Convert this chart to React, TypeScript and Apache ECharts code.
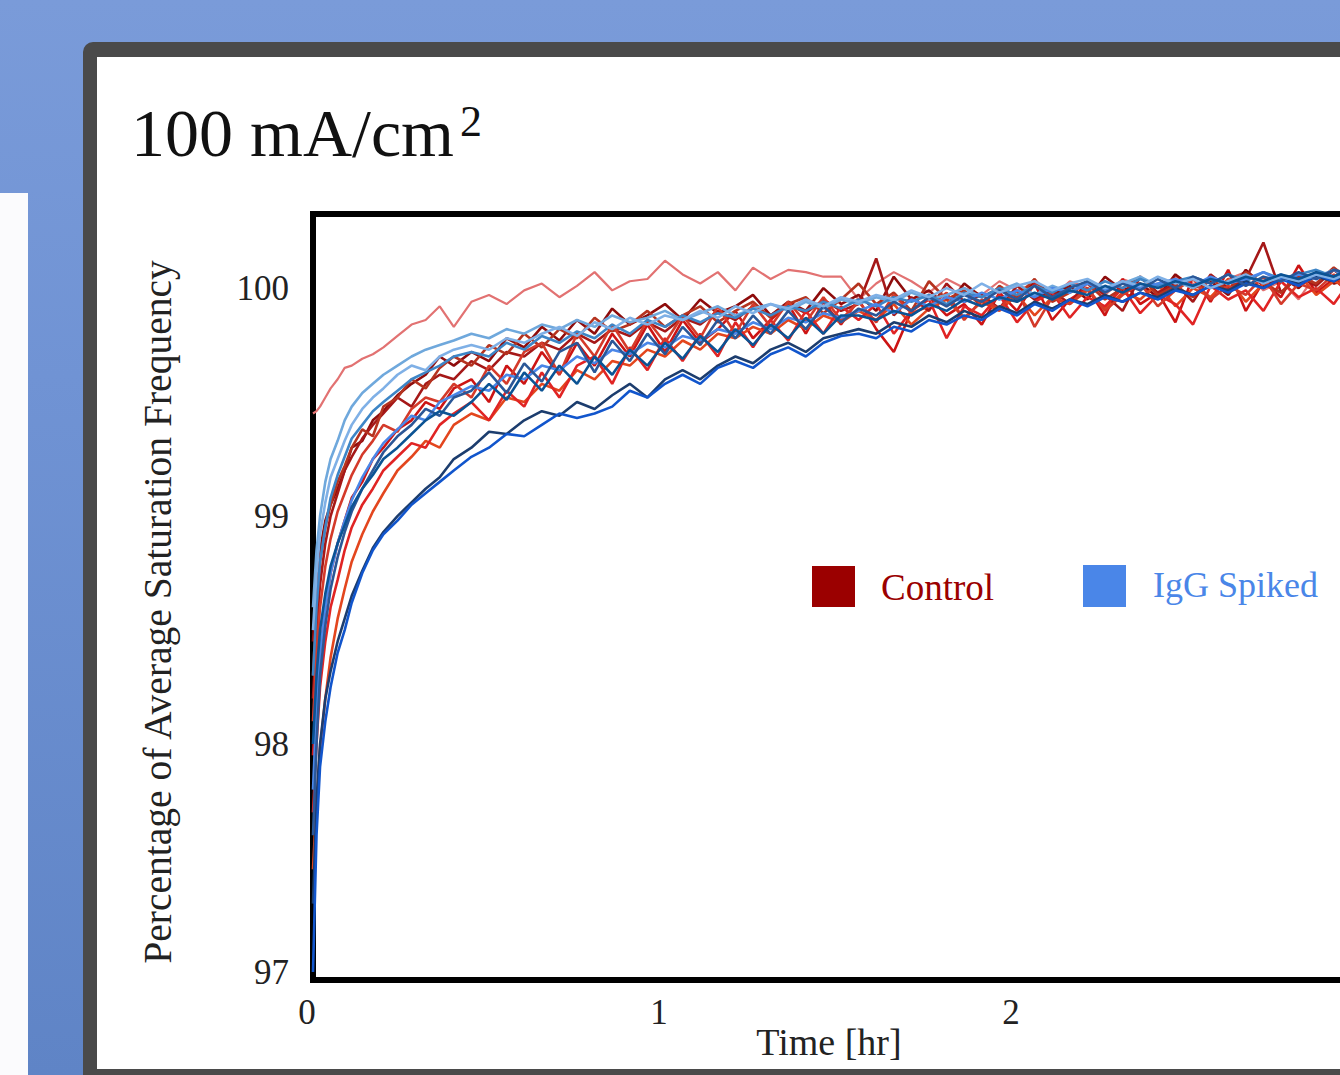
import React, { useEffect, useRef } from "react";
import * as echarts from "echarts";

const SERIF = "'Liberation Serif', 'DejaVu Serif', serif";

// Time axis samples (hr)
const timeHr = [
  0, 0.01, 0.02, 0.035, 0.05, 0.07, 0.09, 0.11, 0.14, 0.17, 0.2, 0.24, 0.28, 0.32, 0.36, 0.4,
  0.45, 0.5, 0.55, 0.6, 0.65, 0.7, 0.75, 0.8, 0.85, 0.9, 0.95, 1.0, 1.05, 1.1, 1.15, 1.2, 1.25, 1.3, 1.35, 1.4, 1.45, 1.5,
  1.55, 1.6, 1.65, 1.7, 1.75, 1.8, 1.85, 1.9, 1.95, 2.0, 2.05, 2.1, 2.15, 2.2, 2.25, 2.3, 2.35, 2.4, 2.45, 2.5,
  2.55, 2.6, 2.65, 2.7, 2.75, 2.8, 2.85, 2.9, 2.95, 3.0,
];

const yTickValues = [97, 98, 99, 100];
const xTickValues = [0, 1, 2];

// Control runs (% of average saturation frequency)
const control1 = [
  99.45, 99.46, 99.48, 99.52, 99.56, 99.6, 99.65, 99.66, 99.69, 99.71, 99.74, 99.79, 99.84, 99.86, 99.92, 99.83,
  99.94, 99.97, 99.93, 99.99, 100.02, 99.96, 100.01, 100.07, 99.99, 100.03, 100.04, 100.12, 100.06, 100.02, 100.07, 99.99, 100.09, 100.04, 100.08, 100.07, 100.05, 100.05,
  99.95, 100.02, 100.07, 100.03, 99.98, 100.04, 100.0, 99.97, 100.03, 99.99, 100.02, 99.96, 100.03, 100.0, 99.97, 100.04, 100.01, 99.98, 100.05, 100.02, 99.96, 100.04, 100.07, 99.99, 100.03, 99.95, 100.06, 100.02, 100.05, 100.03,
];
const control2 = [
  98.45, 98.7, 98.85, 98.98, 99.05, 99.12, 99.2, 99.3, 99.33, 99.42, 99.46, 99.53, 99.58, 99.62, 99.7, 99.66,
  99.72, 99.68, 99.78, 99.74, 99.83, 99.77, 99.86, 99.8, 99.91, 99.84, 99.88, 99.93, 99.86, 99.95, 99.89, 99.92, 99.97, 99.88, 99.94, 99.9, 100.0, 99.93,
  99.97, 99.9, 100.05, 99.95, 99.99, 99.92, 100.02, 99.96, 100.0, 99.94, 100.03, 99.97, 100.01, 99.95, 100.05, 99.99, 100.02, 99.96, 100.06, 100.0, 100.03, 99.97, 100.08, 100.01, 100.05, 100.0, 100.07, 100.02, 100.04, 100.01,
];
const control3 = [
  97.95, 98.2, 98.4, 98.6, 98.75, 98.88, 98.98, 99.08, 99.15, 99.25, 99.3, 99.38, 99.42, 99.5, 99.47, 99.56,
  99.6, 99.5, 99.66, 99.58, 99.72, 99.62, 99.76, 99.66, 99.8, 99.7, 99.84, 99.72, 99.86, 99.76, 99.82, 99.9, 99.78, 99.86, 99.93, 99.8, 99.94, 99.84,
  99.95, 99.82, 99.72, 99.9, 99.96, 99.88, 99.93, 99.84, 99.98, 99.9, 100.02, 99.86, 99.95, 100.0, 99.88, 100.04, 99.93, 99.98, 99.85, 100.05, 99.94, 100.08, 99.9, 100.03, 99.96, 100.1, 99.98, 100.04, 99.97, 100.02,
];
const control4 = [
  97.45, 97.75, 97.98, 98.2, 98.38, 98.55, 98.68, 98.8, 98.92, 99.02, 99.1, 99.2, 99.26, 99.33, 99.3, 99.4,
  99.45, 99.42, 99.52, 99.5, 99.58, 99.55, 99.64, 99.6, 99.68, 99.66, 99.73, 99.7, 99.77, 99.73, 99.8, 99.78, 99.83, 99.8, 99.86, 99.82, 99.88, 99.85,
  99.9, 99.86, 99.93, 99.84, 99.91, 99.95, 99.87, 99.94, 99.9, 99.97, 99.88, 99.96, 99.93, 99.99, 99.91, 99.98, 99.95, 100.02, 99.92, 100.0, 99.96, 100.04, 99.94, 100.02, 99.98, 100.06, 99.97, 100.03, 100.0, 100.05,
];
const control5 = [
  98.2, 98.5, 98.7, 98.88, 99.0, 99.1, 99.2, 99.26, 99.34, 99.4, 99.45, 99.52, 99.48, 99.58, 99.62, 99.6,
  99.68, 99.64, 99.72, 99.7, 99.76, 99.73, 99.8, 99.76, 99.82, 99.79, 99.85, 99.81, 99.87, 99.84, 99.9, 99.86, 99.92, 99.88, 99.93, 99.89, 99.95, 99.9,
  99.93, 100.13, 99.88, 99.96, 99.9, 100.02, 99.94, 99.97, 99.91, 100.01, 99.95, 99.99, 99.93, 100.03, 99.97, 99.9, 100.05, 99.98, 100.02, 99.94, 100.06, 100.0, 100.04, 100.2, 99.98, 100.05, 100.01, 100.08, 100.02, 100.06,
];
const control6 = [
  97.7, 98.0, 98.25, 98.45, 98.6, 98.72, 98.85, 98.95, 99.05, 99.12, 99.2, 99.26, 99.32, 99.3, 99.4, 99.45,
  99.5, 99.42, 99.55, 99.48, 99.63, 99.52, 99.66, 99.7, 99.58, 99.74, 99.64, 99.78, 99.68, 99.8, 99.7, 99.85, 99.74, 99.86, 99.77, 99.9, 99.8, 99.92,
  99.86, 99.93, 99.8, 99.9, 99.95, 99.78, 99.92, 99.88, 99.97, 99.85, 99.94, 99.98, 99.87, 99.96, 99.92, 100.0, 99.89, 99.97, 99.93, 99.84, 100.01, 99.95, 99.99, 99.9, 100.03, 99.96, 100.0, 99.93, 100.04, 99.99,
];
const control7 = [
  98.3, 98.6, 98.8, 98.95, 99.05, 99.15, 99.22, 99.3, 99.38, 99.35, 99.48, 99.52, 99.6, 99.56, 99.65, 99.7,
  99.66, 99.75, 99.71, 99.8, 99.74, 99.82, 99.78, 99.87, 99.81, 99.84, 99.9, 99.83, 99.88, 99.92, 99.85, 99.9, 99.94, 99.87, 99.93, 99.96, 99.89, 99.95,
  100.02, 99.93, 99.98, 99.9, 100.03, 99.95, 99.99, 99.92, 100.01, 99.96, 100.04, 99.94, 99.98, 100.02, 99.95, 100.0, 100.05, 99.97, 100.01, 99.96, 100.04, 99.99, 100.07, 100.02, 99.98, 100.05, 100.02, 100.09, 100.03, 100.06,
];
const control8 = [
  98.1, 98.4, 98.6, 98.78, 98.9, 99.02, 99.1, 99.18, 99.27, 99.33, 99.4, 99.37, 99.47, 99.52, 99.5, 99.58,
  99.52, 99.66, 99.58, 99.72, 99.76, 99.62, 99.8, 99.7, 99.84, 99.72, 99.86, 99.76, 99.88, 99.78, 99.92, 99.8, 99.93, 99.83, 99.94, 99.85, 99.96, 99.86,
  99.94, 99.85, 99.97, 99.89, 99.92, 99.98, 99.86, 99.95, 99.91, 99.99, 99.83, 99.96, 99.93, 100.0, 99.9, 99.97, 100.02, 99.92, 99.99, 100.04, 99.95, 100.01, 99.97, 100.05, 99.93, 100.02, 99.99, 100.06, 99.98, 100.03,
];

// IgG spiked runs
const igg1 = [
  98.6, 98.85, 99.0, 99.15, 99.25, 99.33, 99.42, 99.48, 99.54, 99.58, 99.62, 99.66, 99.7, 99.73, 99.75, 99.77,
  99.8, 99.78, 99.82, 99.8, 99.84, 99.82, 99.86, 99.83, 99.88, 99.85, 99.87, 99.9, 99.86, 99.89, 99.92, 99.88, 99.91, 99.93, 99.9, 99.94, 99.91, 99.95,
  99.93, 99.96, 99.94, 99.98, 99.95, 99.97, 100.0, 99.96, 99.99, 100.02, 99.97, 100.01, 99.98, 100.03, 100.0, 100.02, 100.05, 100.01, 100.03, 100.0, 100.04, 100.02, 100.05, 100.03, 100.06, 100.02, 100.05, 100.08, 100.04, 100.06,
];
const igg2 = [
  98.3, 98.6, 98.8, 98.95, 99.08, 99.18, 99.26, 99.34, 99.4, 99.46, 99.5, 99.55, 99.6, 99.63, 99.66, 99.7,
  99.72, 99.7, 99.76, 99.73, 99.79, 99.76, 99.81, 99.78, 99.84, 99.8, 99.86, 99.83, 99.88, 99.85, 99.89, 99.87, 99.91, 99.88, 99.92, 99.9, 99.94, 99.91,
  99.95, 99.92, 99.96, 99.94, 99.97, 99.93, 99.98, 99.96, 100.0, 99.97, 100.01, 99.98, 100.02, 99.99, 100.03, 100.0, 100.04, 100.01, 100.03, 100.05, 100.02, 100.06, 100.03, 100.07, 100.04, 100.06, 100.08, 100.05, 100.09, 100.07,
];
const igg3 = [
  97.3, 97.75, 98.0, 98.2, 98.32, 98.45, 98.55, 98.65, 98.76, 98.86, 98.93, 99.0, 99.06, 99.12, 99.17, 99.25,
  99.3, 99.37, 99.36, 99.42, 99.46, 99.44, 99.5, 99.47, 99.53, 99.58, 99.52, 99.6, 99.64, 99.6, 99.66, 99.7, 99.67, 99.73, 99.76, 99.72, 99.78, 99.8,
  99.82, 99.8, 99.85, 99.83, 99.88, 99.85, 99.9, 99.87, 99.92, 99.89, 99.94, 99.91, 99.95, 99.93, 99.97, 99.94, 99.98, 99.96, 100.0, 99.97, 100.01, 99.99, 100.03, 100.0, 100.04, 100.02, 100.05, 100.03, 100.07, 100.1,
];
const igg4 = [
  97.0, 97.6, 97.9, 98.1, 98.25, 98.4, 98.5, 98.62, 98.75, 98.85, 98.92, 98.98, 99.05, 99.1, 99.15, 99.2,
  99.26, 99.3, 99.36, 99.35, 99.4, 99.45, 99.43, 99.45, 99.48, 99.55, 99.52, 99.58, 99.62, 99.58, 99.65, 99.68, 99.65, 99.71, 99.74, 99.7, 99.76, 99.79,
  99.8, 99.78, 99.83, 99.81, 99.86, 99.84, 99.88, 99.86, 99.91, 99.88, 99.93, 99.9, 99.95, 99.92, 99.96, 99.94, 99.98, 99.95, 99.99, 99.97, 100.01, 99.98, 100.02, 100.0, 100.04, 100.01, 100.06, 100.03, 100.09, 100.11,
];
const igg5 = [
  97.8, 98.15, 98.4, 98.6, 98.75, 98.88, 98.98, 99.07, 99.17, 99.25, 99.32, 99.38, 99.44, 99.42, 99.5, 99.53,
  99.57, 99.55, 99.62, 99.6, 99.66, 99.64, 99.7, 99.67, 99.73, 99.71, 99.76, 99.74, 99.79, 99.77, 99.82, 99.8, 99.85, 99.82, 99.87, 99.85, 99.89, 99.87,
  99.9, 99.93, 99.89, 99.95, 99.92, 99.96, 99.94, 99.98, 99.95, 99.99, 99.96, 100.0, 99.98, 100.02, 99.99, 100.03, 100.0, 100.02, 100.04, 100.01, 100.05, 100.02, 100.04, 100.07, 100.03, 100.06, 100.04, 100.08, 100.05, 100.07,
];
const igg6 = [
  97.6, 98.0, 98.3, 98.52, 98.68, 98.82, 98.93, 99.02, 99.12, 99.2, 99.28, 99.35, 99.4, 99.47, 99.44, 99.52,
  99.55, 99.63, 99.54, 99.67, 99.59, 99.72, 99.76, 99.63, 99.77, 99.68, 99.8, 99.71, 99.83, 99.75, 99.86, 99.78, 99.88, 99.8, 99.9, 99.82, 99.92, 99.85,
  99.91, 99.88, 99.94, 99.9, 99.96, 99.92, 99.97, 99.94, 99.99, 99.95, 100.01, 99.96, 100.0, 100.03, 99.98, 100.02, 99.99, 100.04, 100.0, 100.05, 100.02, 100.06, 100.01, 100.05, 100.03, 100.07, 100.04, 100.08, 100.06, 100.1,
];
const igg7 = [
  98.5, 98.75, 98.92, 99.06, 99.17, 99.25, 99.33, 99.4, 99.47, 99.52, 99.56, 99.62, 99.66, 99.64, 99.7, 99.73,
  99.75, 99.73, 99.78, 99.76, 99.8, 99.83, 99.79, 99.85, 99.82, 99.87, 99.84, 99.88, 99.86, 99.9, 99.87, 99.92, 99.89, 99.93, 99.91, 99.95, 99.92, 99.96,
  99.94, 99.97, 99.95, 99.99, 99.96, 100.0, 99.97, 100.02, 99.98, 100.01, 100.03, 99.99, 100.02, 100.04, 100.0, 100.03, 100.01, 100.05, 100.02, 100.04, 100.0, 100.03, 100.06, 100.02, 100.05, 100.03, 100.06, 100.04, 100.07, 100.05,
];
const igg8 = [
  98.0, 98.3, 98.5, 98.66, 98.78, 98.88, 98.96, 99.04, 99.12, 99.18, 99.25, 99.3, 99.36, 99.42, 99.46, 99.44,
  99.5, 99.58, 99.51, 99.63, 99.55, 99.66, 99.58, 99.7, 99.62, 99.73, 99.66, 99.76, 99.69, 99.79, 99.72, 99.82, 99.75, 99.84, 99.78, 99.87, 99.8, 99.88,
  99.88, 99.86, 99.9, 99.88, 99.93, 99.9, 99.95, 99.92, 99.96, 99.94, 99.98, 99.95, 99.99, 99.97, 100.01, 99.98, 100.02, 100.0, 100.03, 100.01, 100.04, 100.02, 100.05, 100.03, 100.06, 100.04, 100.07, 100.05, 100.09, 100.12,
];

const controlRuns = [control1, control2, control3, control4, control5, control6, control7, control8];
const iggRuns = [igg1, igg2, igg3, igg4, igg5, igg6, igg7, igg8];

const controlColors = ["#e27272", "#8e0c0c", "#cc1414", "#e3461e", "#a51818", "#e02424", "#b5331f", "#d43a2a"];
const iggColors = ["#6fa8dc", "#3d85c6", "#1c3d6e", "#1155cc", "#4a86e8", "#2b5797", "#7fb0e6", "#0b5394"];

const legendLabels = ["Control", "IgG Spiked"];
const legendColors = ["#9b0000", "#4a86e8"];

function makeSeries(name: string, values: number[], color: string, width: number) {
  return {
    type: "line",
    name,
    data: values.map((v, i) => [timeHr[i], v]),
    showSymbol: false,
    symbol: "none",
    silent: true,
    clip: true,
    lineStyle: { color, width },
    z: 3,
  };
}

const CHART_W = 1400;
const GRID_LEFT = 313;
const PX_PER_HR = 352;

export default function App() {
  const ref = useRef<HTMLDivElement>(null);

  useEffect(() => {
    if (!ref.current) return;
    const chart = echarts.init(ref.current, null, { renderer: "svg" });

    const series: any[] = [];
    controlRuns.forEach((run, i) =>
      series.push(makeSeries(`Control run ${i + 1}`, run, controlColors[i], i === 0 ? 2.2 : 2.6))
    );
    iggRuns.forEach((run, i) => series.push(makeSeries(`IgG Spiked run ${i + 1}`, run, iggColors[i], 2.6)));

    const option: any = {
      animation: false,
      title: {
        text: "100 mA/cm{sup|2}",
        left: 131,
        top: 99,
        padding: 0,
        textStyle: {
          fontFamily: SERIF,
          fontSize: 68,
          fontWeight: "normal",
          color: "#111",
          rich: {
            sup: { fontFamily: SERIF, fontSize: 44, color: "#111", verticalAlign: "top", lineHeight: 44, padding: [0, 0, 0, 6] },
          },
        },
      },
      grid: {
        left: GRID_LEFT,
        top: 214,
        bottom: 95,
        right: CHART_W - GRID_LEFT - 3 * PX_PER_HR,
        show: true,
        borderColor: "#000",
        borderWidth: 6,
        backgroundColor: "#fff",
      },
      xAxis: {
        type: "value",
        min: 0,
        max: 3,
        axisLine: { show: false },
        axisTick: { show: false },
        splitLine: { show: false },
        axisLabel: {
          customValues: xTickValues,
          fontFamily: SERIF,
          fontSize: 35,
          color: "#222",
          margin: 15,
          padding: [0, 12, 0, 0],
        },
        name: "Time [hr]",
        nameLocation: "middle",
        nameGap: 43,
        nameMoveOverlap: false,
        nameTextStyle: { fontFamily: SERIF, fontSize: 38, color: "#222", padding: [0, 24, 0, 0] },
      },
      yAxis: {
        type: "value",
        min: 96.965,
        max: 100.325,
        axisLine: { show: false },
        axisTick: { show: false },
        splitLine: { show: false },
        axisLabel: {
          customValues: yTickValues,
          fontFamily: SERIF,
          fontSize: 35,
          color: "#222",
          margin: 24,
        },
        name: "Percentage of Average Saturation Frequency",
        nameLocation: "middle",
        nameRotate: 90,
        nameGap: 135,
        nameTextStyle: { fontFamily: SERIF, fontSize: 39.5, color: "#222", padding: [0, 30, 0, 0] },
      },
      series,
      graphic: [
        { type: "rect", x: 812, y: 566, z: 100, shape: { x: 0, y: 0, width: 43, height: 41 }, style: { fill: legendColors[0] } },
        {
          type: "text",
          x: 881,
          y: 587,
          z: 100,
          style: { text: legendLabels[0], fontFamily: SERIF, fontSize: 37, fill: legendColors[0], verticalAlign: "middle" },
        },
        { type: "rect", x: 1083, y: 565, z: 100, shape: { x: 0, y: 0, width: 43, height: 42 }, style: { fill: legendColors[1] } },
        {
          type: "text",
          x: 1153,
          y: 585,
          z: 100,
          style: { text: legendLabels[1], fontFamily: SERIF, fontSize: 36, fill: legendColors[1], verticalAlign: "middle" },
        },
      ],
    };

    chart.setOption(option);
    return () => chart.dispose();
  }, []);

  return (
    <div
      style={{
        position: "fixed",
        left: 0,
        top: 0,
        width: 1340,
        height: 1075,
        overflow: "hidden",
        background: "linear-gradient(180deg, #7a9bd9 0%, #7093d4 35%, #5f84c6 100%)",
      }}
    >
      <div style={{ position: "absolute", left: 0, top: 193, width: 28, height: 900, background: "#fbfbfd" }} />
      <div
        style={{
          position: "absolute",
          left: 83,
          top: 42,
          width: 1320,
          height: 1100,
          background: "#4a4a4a",
          borderRadius: 10,
        }}
      />
      <div style={{ position: "absolute", left: 97, top: 57, width: 1300, height: 1012, background: "#ffffff" }} />
      <div ref={ref} style={{ position: "absolute", left: 0, top: 0, width: CHART_W, height: 1075 }} />
    </div>
  );
}
